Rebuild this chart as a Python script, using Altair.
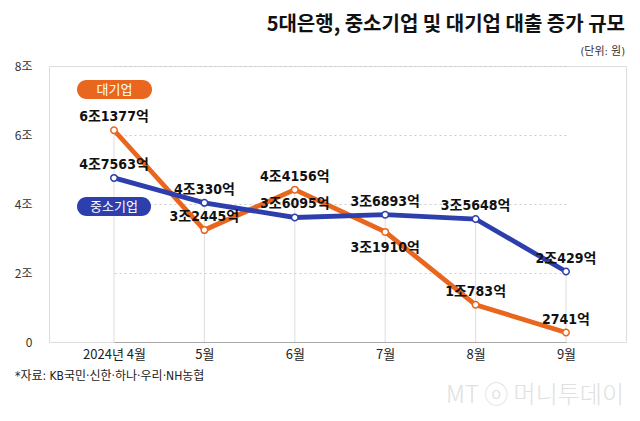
import altair as alt
import pandas as pd

months = ["2024년 4월", "5월", "6월", "7월", "8월", "9월"]
large = [6.1377, 3.2445, 4.4156, 3.1910, 1.0783, 0.2741]   # 대기업 (조원)
sme = [4.7563, 4.0330, 3.6095, 3.6893, 3.5648, 2.0429]     # 중소기업 (조원)
y_ticks = [0, 2, 4, 6, 8]

ORANGE = "#E8661D"
BLUE = "#2D3EAD"
FONT = "DejaVu Sans Condensed, Noto Sans CJK KR, sans-serif"
KFONT = "Noto Sans CJK KR, sans-serif"


def fmt(v):
    n = int(round(v * 10000))
    jo, eok = divmod(n, 10000)
    return f"{jo}조{eok}억" if jo else f"{eok}억"


rows = []
for i, m in enumerate(months):
    rows.append({"month": m, "idx": i, "series": "대기업", "value": large[i], "label": fmt(large[i]),
                 "below": m == "7월"})
    rows.append({"month": m, "idx": i, "series": "중소기업", "value": sme[i], "label": fmt(sme[i]),
                 "below": False})
df = pd.DataFrame(rows)

drops = pd.DataFrame({"month": months, "top": [max(a, b) for a, b in zip(large, sme)]})

W, H = 577, 276

xscale = alt.Scale(type="point", domain=months, range=[65, 517], padding=0)
yscale = alt.Scale(domain=[0, 8], nice=False)
cscale = alt.Scale(domain=["대기업", "중소기업"], range=[ORANGE, BLUE])
color = alt.Color("series:N", scale=cscale, legend=None)

base = alt.Chart(df)

x_enc = alt.X("month:N", scale=xscale, sort=months, title=None)
y_enc = alt.Y("value:Q", scale=yscale, title=None,
              axis=alt.Axis(values=y_ticks, labelExpr="datum.value == 0 ? '0' : datum.value + '조'"))

drop = alt.Chart(drops).mark_rule(color="#dddddd", strokeWidth=1).encode(
    x=x_enc,
    y=alt.Y("top:Q", scale=yscale, title=None,
            axis=alt.Axis(values=y_ticks, labelExpr="datum.value == 0 ? '0' : datum.value + '조'")),
    y2=alt.datum(0),
)

lines = base.mark_line(strokeWidth=4.8).encode(x=x_enc, y=y_enc, color=color, order=alt.Order("idx:Q"))

points = base.mark_point(filled=True, fill="white", size=42, strokeWidth=1.5, opacity=1).encode(
    x=x_enc, y=y_enc, stroke=alt.Stroke("series:N", scale=cscale, legend=None),
)

labels_above = base.transform_filter("!datum.below").mark_text(
    font=FONT, fontSize=14, fontWeight="bold", color="#111", dy=-13, baseline="middle").encode(
    x=x_enc, y=y_enc, text="label:N",
)
labels_below = base.transform_filter("datum.below").mark_text(
    font=FONT, fontSize=14, fontWeight="bold", color="#111", dy=16, baseline="middle").encode(
    x=x_enc, y=y_enc, text="label:N",
)

# series badges (legend)
badge_df = pd.DataFrame({"name": ["대기업", "중소기업"], "x": [28, 28], "x2": [103, 102],
                         "y": [14, 131], "y2": [33, 150]})
badge_rect = alt.Chart(badge_df).mark_rect(cornerRadius=10).encode(
    x=alt.X("x:Q", scale=None), x2="x2:Q", y=alt.Y("y:Q", scale=None), y2="y2:Q",
    color=alt.Color("name:N", scale=cscale, legend=None),
)
badge_text = alt.Chart(badge_df).transform_calculate(
    cx="(datum.x + datum.x2) / 2", cy="(datum.y + datum.y2) / 2").mark_text(
    font=KFONT, fontSize=13, color="white", baseline="middle", align="center").encode(
    x=alt.X("cx:Q", scale=None), y=alt.Y("cy:Q", scale=None), text="name:N")

title = alt.Chart(pd.DataFrame({"t": ["5대은행, 중소기업 및 대기업 대출 증가 규모"]})).mark_text(
    font=KFONT, fontSize=20, fontWeight="bold", color="#111", align="right", baseline="alphabetic").encode(
    x=alt.value(576), y=alt.value(-35), text="t:N")
unit = alt.Chart(pd.DataFrame({"t": ["(단위: 원)"]})).mark_text(
    font=FONT, fontSize=11, color="#333", align="right", baseline="middle").encode(
    x=alt.value(576), y=alt.value(-14), text="t:N")
source = alt.Chart(pd.DataFrame({"t": ["*자료: KB국민·신한·하나·우리·NH농협"]})).mark_text(
    font=FONT, fontSize=12, color="#222", align="left", baseline="middle").encode(
    x=alt.value(-34), y=alt.value(310), text="t:N")
wm = alt.Chart(pd.DataFrame({"t": ["MT ⓞ 머니투데이"]})).mark_text(
    font=KFONT, fontSize=24, fontWeight=300, color="#e0e0e0", align="right", baseline="middle").encode(
    x=alt.value(575), y=alt.value(330), text="t:N")

chart = alt.layer(drop, lines, points, labels_above, labels_below, badge_rect, badge_text,
                  title, unit, source, wm).properties(
    width=W, height=H,
    padding={"left": 41, "top": 58, "right": 6, "bottom": 79},
    autosize=alt.AutoSizeParams(type="none"),
).configure_view(stroke=None).configure(background="white").configure_axisX(
    labelAngle=0, ticks=False, domain=True, domainColor="#aaaaaa", domainWidth=1,
    labelFont=KFONT, labelFontSize=13, labelColor="#222", labelPadding=6, grid=False,
).configure_axisY(
    ticks=False, domain=False, labelFont=KFONT, labelFontSize=12, labelColor="#333",
    labelPadding=17, grid=True, gridDash=[2, 3], gridColor="#cccccc", gridWidth=1,
)

chart.save("out.html", embed_options={"renderer": "svg", "actions": False})
